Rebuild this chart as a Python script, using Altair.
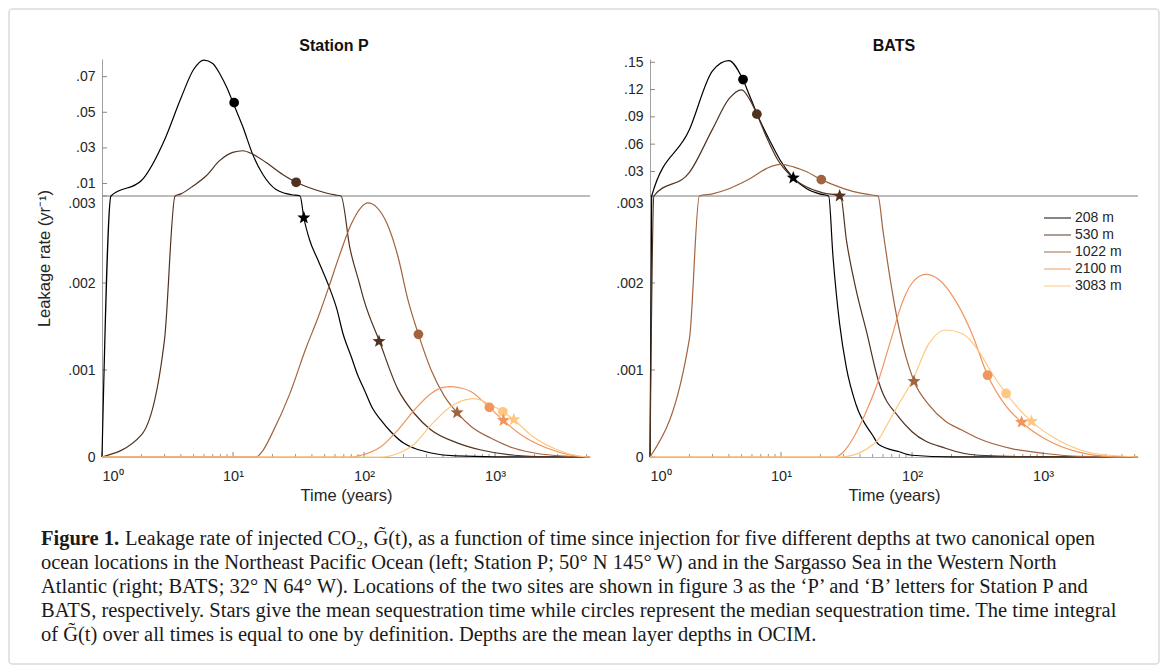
import altair as alt
import pandas as pd

DEPTHS = ["208 m", "530 m", "1022 m", "2100 m", "3083 m"]
COLORS = ["#000000", "#50321f", "#a0643f", "#ef955f", "#ffc77f"]

# ---------------- Station P : G(t) ----------------
P_208_T = [1, 1.17, 2, 3, 4, 5, 6, 7, 8, 9, 10, 11.9, 14.1, 16.9, 21.3, 25, 28, 32.5, 34.7, 38.3, 44.3,
           54.3, 62, 69, 80, 90, 100, 116, 135, 160, 200, 242, 325, 500, 1000, 5300]
P_208_G = [0, 0.003, 0.0117, 0.0345, 0.0579, 0.0740, 0.0793, 0.0774, 0.0711, 0.0636, 0.0554, 0.0417,
           0.0265, 0.0151, 0.0066, 0.0045, 0.0037, 0.0030, 0.00275, 0.0025, 0.00227, 0.00195, 0.0017,
           0.00142, 0.00115, 0.00093, 0.00078, 0.00056, 0.00042, 0.00029, 0.00016, 0.0001, 0.000046,
           0.000012, 0.000002, 0]
P_530_T = [1, 2, 3, 3.61, 4, 5, 6.22, 7.86, 9.95, 11.9, 14.1, 17.9, 23.9, 30.3, 38.3, 51.3, 60, 66.7,
           78, 92, 100, 131, 181, 242, 325, 519, 782, 1403, 2500, 5300]
P_530_G = [0, 0.000254, 0.00135, 0.003, 0.0042, 0.0088, 0.0142, 0.0227, 0.0275, 0.0284, 0.0265, 0.0218,
           0.0151, 0.0107, 0.0076, 0.0047, 0.0036, 0.0030, 0.0024, 0.0020, 0.0018, 0.00133, 0.00078,
           0.0005, 0.00031, 0.00016, 0.00008, 0.00002, 0.000003, 0]
P_1022_T = [1, 15, 17, 20, 27, 36, 45, 54, 65, 80, 95, 107, 125, 150, 181, 216, 260, 325, 410, 513,
            656, 932, 1400, 2100, 3400, 5300]
P_1022_G = [0, 0, 0.00008, 0.00028, 0.00072, 0.00125, 0.00162, 0.00196, 0.00232, 0.00268, 0.00287,
            0.00292, 0.00287, 0.00268, 0.00231, 0.00181, 0.00141, 0.0010, 0.0007, 0.00051, 0.00035,
            0.000215, 0.0001, 0.00004, 0.00001, 0]
P_2100_T = [1, 80, 95, 135, 181, 242, 325, 400, 461, 560, 656, 905, 1157, 1675, 2511, 3800, 5300]
P_2100_G = [0, 0, 0.00002, 0.00012, 0.00031, 0.00054, 0.00073, 0.0008, 0.00081, 0.00079, 0.00075,
            0.00057, 0.00042, 0.00023, 0.0001, 0.00002, 0]
P_3083_T = [1, 135, 181, 242, 325, 461, 600, 695, 850, 1145, 1389, 1884, 3011, 4000, 5300]
P_3083_G = [0, 0, 0.00004, 0.00015, 0.00037, 0.00058, 0.00066, 0.00067, 0.00063, 0.00052, 0.00043,
            0.00025, 0.00008, 0.00002, 0]
P_MEDIAN_T = [10.2, 30.3, 260, 905, 1145]
P_MEDIAN_G = [0.0554, 0.0107, 0.00141, 0.00057, 0.00052]
P_MEAN_T = [34.7, 130, 513, 1157, 1389]
P_MEAN_G = [0.00275, 0.00133, 0.00051, 0.00042, 0.00043]

# ---------------- BATS ----------------
B_208_T = [1, 1.03, 2, 3, 4, 5, 5.82, 6.93, 8.26, 9.83, 12.4, 15.7, 19.7, 23.1, 24.9, 28, 31.5, 37.4,
           50, 56, 80, 100, 200, 5300]
B_208_G = [0, 0.003, 0.0761, 0.1406, 0.1518, 0.134, 0.1116, 0.0854, 0.063, 0.0426, 0.0229, 0.011,
           0.0054, 0.0030, 0.00231, 0.00153, 0.00103, 0.0006, 0.00025, 0.00014, 0.00006, 0.00002,
           0.000002, 0]
B_530_T = [1, 1.07, 2, 3, 4, 5, 5.82, 6.54, 7.79, 9.28, 11.7, 15.7, 20.9, 28.5, 31.5, 37.4, 44.6, 56,
           80, 100, 180, 322, 1000, 5300]
B_530_G = [0, 0.003, 0.029, 0.0765, 0.1097, 0.1197, 0.108, 0.093, 0.0669, 0.0445, 0.026, 0.0128,
           0.0065, 0.0030, 0.0025, 0.00192, 0.00146, 0.00085, 0.00045, 0.00029, 0.0001, 0.00002,
           0.000002, 0]
B_1022_T = [1, 2, 2.38, 3, 4, 5, 5.82, 7.79, 9.83, 12.4, 15.7, 20.3, 28, 37.4, 45, 53, 55, 60, 67, 80,
            103.5, 134.5, 180, 240, 322, 575, 1030, 1850, 5300]
B_1022_G = [0, 0.00136, 0.003, 0.0054, 0.011, 0.0173, 0.0222, 0.0334, 0.0378, 0.0351, 0.0296, 0.021,
            0.0128, 0.0072, 0.0050, 0.0035, 0.0030, 0.0026, 0.00211, 0.00146, 0.00087, 0.0006, 0.00041,
            0.00031, 0.000213, 0.000097, 0.00004, 0.000008, 0]
B_2100_T = [1, 26, 30, 35.3, 47, 56, 63, 70, 80, 90, 100, 127, 160, 214, 286, 377, 513, 685, 1030,
            1842, 3280, 5300]
B_2100_G = [0, 0, 0.00006, 0.00021, 0.0006, 0.0009, 0.00115, 0.00138, 0.00168, 0.00188, 0.002, 0.0021,
            0.00204, 0.0018, 0.00142, 0.00094, 0.0006, 0.0004, 0.00021, 0.000058, 0.000005, 0]
B_3083_T = [1, 28, 40, 50, 56, 65, 80, 100, 134, 180, 240, 322, 400, 522, 647, 815, 1376, 2465, 5300]
B_3083_G = [0, 0, 0.00005, 0.00014, 0.00021, 0.00038, 0.00062, 0.00087, 0.0013, 0.00146, 0.00142,
            0.00122, 0.00098, 0.00073, 0.00056, 0.00041, 0.000175, 0.00004, 0]
B_MEDIAN_T = [5.13, 6.54, 20.3, 377, 522]
B_MEDIAN_G = [0.131, 0.093, 0.021, 0.00094, 0.00073]
B_MEAN_T = [12.4, 28, 103.5, 685, 815]
B_MEAN_G = [0.0229, 0.0031, 0.00087, 0.0004, 0.00041]

X_MAJOR = [1, 10, 100, 1000]
X_MINOR = [2, 3, 4, 5, 6, 7, 8, 9, 20, 30, 40, 50, 60, 70, 80, 90,
           200, 300, 400, 500, 600, 700, 800, 900, 2000, 3000, 4000, 5000]
P_YTICKS = [0, 0.001, 0.002, 0.003, 0.01, 0.03, 0.05, 0.07]
B_YTICKS = [0, 0.001, 0.002, 0.003, 0.03, 0.06, 0.09, 0.12, 0.15]
BREAK = 0.003

CAPTION = [
    "Leakage rate of injected CO₂, G̃(t), as a function of time since injection for five different depths at two canonical open",
    "ocean locations in the Northeast Pacific Ocean (left; Station P; 50° N 145° W) and in the Sargasso Sea in the Western North",
    "Atlantic (right; BATS; 32° N 64° W). Locations of the two sites are shown in figure 3 as the ‘P’ and ‘B’ letters for Station P and",
    "BATS, respectively. Stars give the mean sequestration time while circles represent the median sequestration time. The time integral",
    "of G̃(t) over all times is equal to one by definition. Depths are the mean layer depths in OCIM.",
]
CAPTION_BOLD = "Figure 1."

# five-pointed star drawn as a custom symbol path (unit box -1..1)
STAR = ("M0,-1L0.2469,-0.3398L0.9511,-0.309L0.3995,0.1298L0.5878,0.809L0,0.42"
        "L-0.5878,0.809L-0.3995,0.1298L-0.9511,-0.309L-0.2469,-0.3398Z")

W, H = 488, 398
XDOM = [1, 5300]
SANS = "Liberation Sans"
SERIF = "Liberation Serif"
TXT = "#262626"
CAP_SIZE = 20.5


def curves_df(ts, gs):
    rows = []
    for d, tl, gl in zip(DEPTHS, ts, gs):
        for i, (t, g) in enumerate(zip(tl, gl)):
            rows.append({"depth": d, "t": t, "G": g, "i": i})
    return pd.DataFrame(rows)


def marks_df(ts, gs):
    return pd.DataFrame({"depth": DEPTHS, "t": ts, "G": gs})


color_scale = alt.Scale(domain=DEPTHS, range=COLORS)
XLABEL = ("datum.value == 1 ? '10⁰' : datum.value == 10 ? '10¹' : "
          "datum.value == 100 ? '10²' : '10³'")
YLABEL = "datum.value == 0 ? '0' : substring(format(datum.value, '.3~f'), 1)"


def text_layer(s, x, y, **kw):
    return alt.Chart(pd.DataFrame({"s": [s]})).mark_text(**kw).encode(
        x=alt.value(x), y=alt.value(y), text="s:N")


def panel(curves, med, mean, ydom, yrange, yticks, title, title_x, ytitle, cond):
    xs = alt.Scale(type="log", domain=XDOM, nice=False)
    ys = alt.Scale(type="linear", domain=ydom, range=yrange, nice=False, zero=False)
    xax = alt.Axis(values=X_MAJOR, ticks=False, grid=False, domainColor="#b0b0b0",
                   labelExpr=XLABEL, labelFont=SANS, labelFontSize=14.5, labelColor=TXT,
                   labelPadding=12, labelOverlap=False, title="Time (years)", titleFont=SANS,
                   titleFontSize=16.5, titleFontWeight="normal", titleColor=TXT, titlePadding=5)
    ybase = dict(values=yticks, ticks=False, grid=False, domainColor="#a0a0a0",
                 labelExpr=YLABEL, labelFont=SANS, labelFontSize=14, labelColor=TXT,
                 labelPadding=7, labelOverlap=False)
    if cond:
        # the bottom-section ".003" label sits just below the break, as in the figure
        ybase["labelBaseline"] = alt.condition("datum.value == 0.003", alt.value("top"),
                                               alt.value("middle"))
    if ytitle:
        yax = alt.Axis(title=ytitle, titleFont=SANS, titleFontSize=16.5, titleFontWeight="normal",
                       titleColor=TXT, titlePadding=15, **ybase)
    else:
        yax = alt.Axis(title=None, **ybase)

    def X(f):
        return alt.X(f, scale=xs, axis=xax)

    def Y(f):
        return alt.Y(f, scale=ys, axis=yax)

    col = alt.Color("depth:N", scale=color_scale, legend=None)

    brk = alt.Chart(pd.DataFrame({"G": [BREAK]})).mark_rule(color="#7a7a7a", strokeWidth=1).encode(
        y=Y("G:Q"), x=alt.value(0), x2=alt.value(W))
    xmaj = alt.Chart(pd.DataFrame({"v": X_MAJOR})).mark_rule(color="#888888", strokeWidth=1).encode(
        x=X("v:Q"), y=alt.value(H), y2=alt.value(H - 5))
    xmin = alt.Chart(pd.DataFrame({"v": X_MINOR})).mark_rule(color="#999999", strokeWidth=1).encode(
        x=X("v:Q"), y=alt.value(H), y2=alt.value(H - 3))
    ytk = alt.Chart(pd.DataFrame({"v": yticks})).mark_rule(color="#888888", strokeWidth=1).encode(
        y=Y("v:Q"), x=alt.value(0), x2=alt.value(5))
    lines = alt.Chart(curves).mark_line(strokeWidth=1.2, interpolate="monotone").encode(
        x=X("t:Q"), y=Y("G:Q"), color=col, order="i:Q")
    circ = alt.Chart(med).mark_point(shape="circle", filled=True, size=95, opacity=1).encode(
        x=X("t:Q"), y=Y("G:Q"), color=col)
    star = alt.Chart(mean).mark_point(shape=STAR, filled=True, size=190, opacity=1).encode(
        x=X("t:Q"), y=Y("G:Q"), color=col)
    ttl = text_layer(title, title_x, -13, font=SANS, fontWeight="bold", fontSize=16,
                     baseline="middle", align="center", color="#111111")
    return [brk, xmin, xmaj, ytk, lines, circ, star, ttl]


def build(cond):
    left_layers = panel(
        curves_df([P_208_T, P_530_T, P_1022_T, P_2100_T, P_3083_T],
                  [P_208_G, P_530_G, P_1022_G, P_2100_G, P_3083_G]),
        marks_df(P_MEDIAN_T, P_MEDIAN_G), marks_df(P_MEAN_T, P_MEAN_G),
        [0, BREAK, 0.0799], [H, 137, 0], P_YTICKS, "Station P", 232, "Leakage rate (yr⁻¹)", cond)

    frame = alt.Chart(pd.DataFrame({"a": [0]})).mark_rect(
        fill="#ffffff", fillOpacity=0, stroke="#c8c8c8", strokeWidth=1, cornerRadius=3
    ).encode(x=alt.value(-93), x2=alt.value(1057), y=alt.value(-50), y2=alt.value(605))

    cap_x, cap_y0, cap_dy = -61, 480, 24
    first_offsets = [84, 0, 0, 0, 0]
    cap_layers = []
    for k, s in enumerate(CAPTION):
        cap_layers.append(text_layer(s, cap_x + first_offsets[k], cap_y0 + cap_dy * k, font=SERIF,
                                     fontSize=CAP_SIZE, align="left", baseline="middle",
                                     color="#1a1a1a"))
    cap_layers.append(text_layer(CAPTION_BOLD, cap_x, cap_y0, font=SERIF, fontSize=CAP_SIZE,
                                 fontWeight="bold", align="left", baseline="middle", color="#1a1a1a"))

    left = alt.layer(frame, *left_layers, *cap_layers).properties(width=W, height=H)

    right_layers = panel(
        curves_df([B_208_T, B_530_T, B_1022_T, B_2100_T, B_3083_T],
                  [B_208_G, B_530_G, B_1022_G, B_2100_G, B_3083_G]),
        marks_df(B_MEDIAN_T, B_MEDIAN_G), marks_df(B_MEAN_T, B_MEAN_G),
        [0, BREAK, 0.1536], [H, 137, 0], B_YTICKS, "BATS", 244, None, cond)

    leg_layers = []
    for k, d in enumerate(DEPTHS):
        yk = 159 + 17 * k
        leg_layers.append(
            alt.Chart(pd.DataFrame({"depth": [d]})).mark_rule(strokeWidth=1.6, opacity=0.6).encode(
                x=alt.value(394), x2=alt.value(421), y=alt.value(yk),
                color=alt.Color("depth:N", scale=color_scale, legend=None)))
        leg_layers.append(text_layer(d, 425, yk, align="left", baseline="middle", font=SANS,
                                     fontSize=14, color=TXT))

    right = alt.layer(*right_layers, *leg_layers).properties(width=W, height=H)

    return alt.hconcat(left, right, spacing=60, bounds="flush").properties(
        padding=0).configure_view(stroke=None)


try:
    chart = build(True)
    chart.to_dict()
except Exception:
    chart = build(False)

chart.save("out.html", embed_options={"renderer": "svg", "actions": False})
